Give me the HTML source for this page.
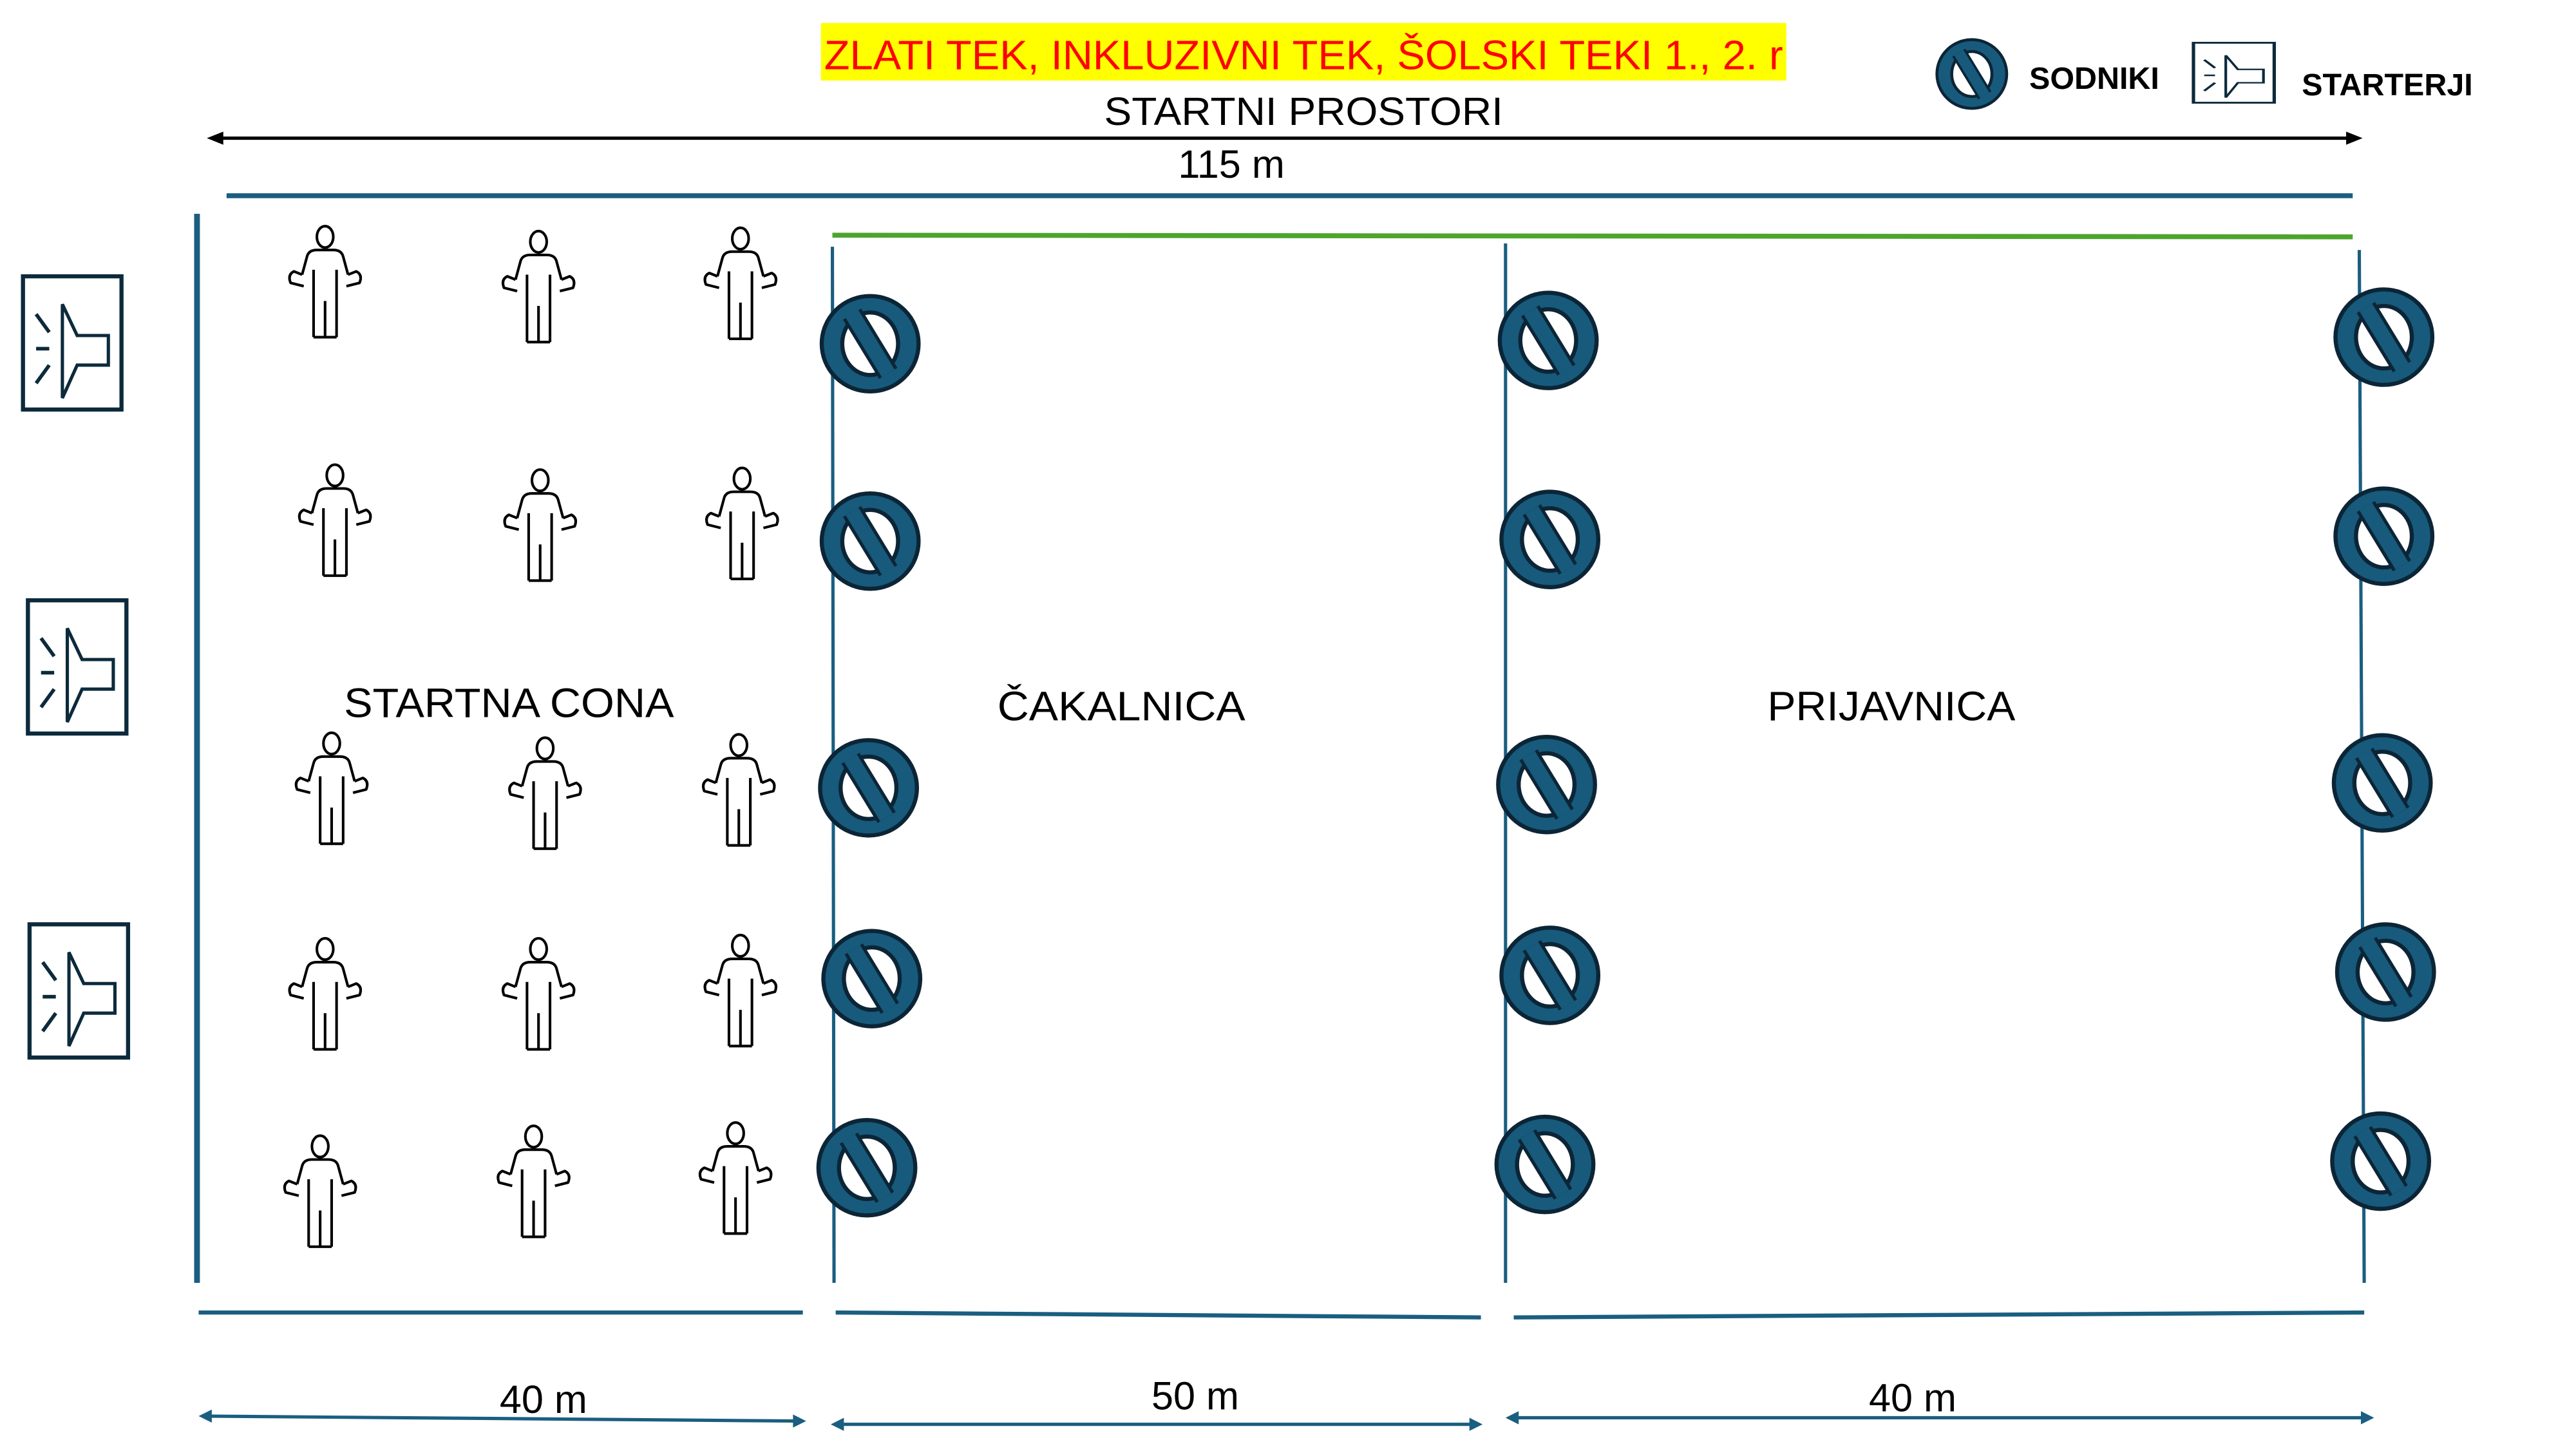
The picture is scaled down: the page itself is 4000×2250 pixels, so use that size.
<!DOCTYPE html>
<html><head><meta charset="utf-8"><style>
html,body{margin:0;padding:0;background:#fff;}
svg{display:block}
text{font-family:"Liberation Sans",sans-serif;}
</style></head><body>
<svg width="4000" height="2250" viewBox="0 0 1569 881" preserveAspectRatio="none" xmlns="http://www.w3.org/2000/svg">
<defs>
<g id="p" fill="none" stroke="#000" stroke-width="1.6" stroke-linejoin="round">
<ellipse cx="0" cy="7" rx="5" ry="6.5" fill="#fff"/>
<path d="M-7,68 V27 M7,68 V27 M-7,68 H7 M0,46 V68"/>
<path d="M-14,30 L-11,19 Q-10,15 -5,15 H5 Q10,15 11,19 L14,30"/>
<path d="M-14,30 L-19,28 Q-23,30 -21,35 L-13,37 M14,30 L19,28 Q23,30 21,35 L13,37"/>
</g>
<g id="s">
<ellipse cx="0" cy="0" rx="29.5" ry="29" fill="#175a7c" stroke="#0c2536" stroke-width="2.5"/>
<ellipse cx="0" cy="0" rx="17" ry="19" fill="#fff" stroke="#0c2536" stroke-width="2.5"/>
<line x1="-11" y1="-18" x2="11" y2="18" stroke="#0c2536" stroke-width="13"/>
<line x1="-11" y1="-18" x2="11" y2="18" stroke="#175a7c" stroke-width="9"/>
</g>
<g id="m" fill="none" stroke="#0c2a3c">
<rect x="0" y="0" width="60" height="81" stroke-width="2.5" fill="#fff"/>
<path d="M24,17 L33,36 H52 V54 H33 L24,74 Z" stroke-width="2"/>
<path d="M8,23 L16,34 M8,44 H16 M8,65 L16,54" stroke-width="2.2"/>
</g>
</defs>
<rect x="500" y="14" width="588" height="35" fill="#ffff00"/>
<text x="794" y="42" text-anchor="middle" font-size="25" fill="#ff0000" textLength="584" lengthAdjust="spacingAndGlyphs">ZLATI TEK, INKLUZIVNI TEK, ŠOLSKI TEKI 1., 2. r</text>
<text x="794" y="76" text-anchor="middle" font-size="24" textLength="243" lengthAdjust="spacingAndGlyphs">STARTNI PROSTORI</text>
<line x1="130" y1="84" x2="1435" y2="84" stroke="#000" stroke-width="2"/>
<path d="M126,84 l10,-4 v8 z M1439,84 l-10,-4 v8 z" fill="#000"/>
<text x="750" y="108" text-anchor="middle" font-size="24">115 m</text>
<line x1="138" y1="119" x2="1433" y2="119" stroke="#1a5e80" stroke-width="3"/>
<line x1="507" y1="143" x2="1433" y2="144" stroke="#4ca52c" stroke-width="3"/>
<g stroke="#1a5e80">
<line x1="120" y1="130" x2="120" y2="780" stroke-width="3.5"/>
<line x1="507" y1="150" x2="508" y2="780" stroke-width="2"/>
<line x1="917" y1="148" x2="917" y2="780" stroke-width="2"/>
<line x1="1437" y1="152" x2="1440" y2="780" stroke-width="2"/>
<line x1="121" y1="798" x2="489" y2="798" stroke-width="2.5"/>
<line x1="509" y1="798" x2="902" y2="801" stroke-width="2.5"/>
<line x1="922" y1="801" x2="1440" y2="798" stroke-width="2.5"/>
<line x1="125" y1="861" x2="487" y2="864" stroke-width="2"/>
<line x1="510" y1="866" x2="899" y2="866" stroke-width="2"/>
<line x1="921" y1="862" x2="1442" y2="862" stroke-width="2"/>
</g>
<path d="M121,861 l8,-4 v8z M491,864 l-8,-4 v8z M506,866 l8,-4 v8z M903,866 l-8,-4 v8z M917,862 l8,-4 v8z M1446,862 l-8,-4 v8z" fill="#1a5e80"/>
<text x="331" y="859" text-anchor="middle" font-size="24">40 m</text>
<text x="728" y="857" text-anchor="middle" font-size="24">50 m</text>
<text x="1165" y="858" text-anchor="middle" font-size="24">40 m</text>
<text x="310" y="436" text-anchor="middle" font-size="25" textLength="201" lengthAdjust="spacingAndGlyphs">STARTNA CONA</text>
<text x="683" y="438" text-anchor="middle" font-size="25" textLength="151" lengthAdjust="spacingAndGlyphs">ČAKALNICA</text>
<text x="1152" y="438" text-anchor="middle" font-size="25" textLength="151" lengthAdjust="spacingAndGlyphs">PRIJAVNICA</text>
<use href="#p" x="198" y="137"/><use href="#p" x="328" y="140"/><use href="#p" x="451" y="138"/>
<use href="#p" x="204" y="282"/><use href="#p" x="329" y="285"/><use href="#p" x="452" y="284"/>
<use href="#p" x="202" y="445"/><use href="#p" x="332" y="448"/><use href="#p" x="450" y="446"/>
<use href="#p" x="198" y="570"/><use href="#p" x="328" y="570"/><use href="#p" x="451" y="568"/>
<use href="#p" x="195" y="690"/><use href="#p" x="325" y="684"/><use href="#p" x="448" y="682"/>
<use href="#s" x="530" y="209"/><use href="#s" x="530" y="329"/><use href="#s" x="529" y="479"/><use href="#s" x="531" y="595"/><use href="#s" x="528" y="710"/>
<use href="#s" x="943" y="207"/><use href="#s" x="944" y="328"/><use href="#s" x="942" y="477"/><use href="#s" x="944" y="593"/><use href="#s" x="941" y="708"/>
<use href="#s" x="1452" y="205"/><use href="#s" x="1452" y="326"/><use href="#s" x="1451" y="476"/><use href="#s" x="1453" y="591"/><use href="#s" x="1450" y="706"/>
<use href="#m" x="14" y="168"/><use href="#m" x="17" y="365"/><use href="#m" x="18" y="562"/>
<g transform="translate(1201,45) scale(0.72)"><use href="#s"/></g>
<text x="1236" y="54" font-size="19" font-weight="bold">SODNIKI</text>
<g transform="translate(1336,26) scale(0.82,0.45)"><use href="#m"/></g>
<text x="1402" y="58" font-size="19" font-weight="bold">STARTERJI</text>
</svg>
</body></html>
